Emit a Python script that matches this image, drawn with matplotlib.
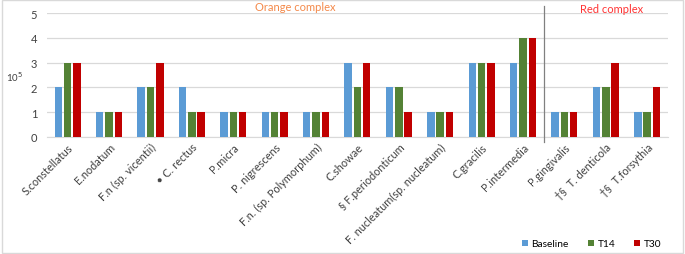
import numpy as np
import matplotlib.pyplot as plt
from matplotlib.patches import Rectangle

plt.rcParams['font.family'] = ['Lato', 'DejaVu Sans']

species = ["S.constellatus", "E.nodatum", "F.n (sp. vicentii)", "\u2022 C. rectus", "P.micra",
           "P. nigrescens", "F.n. (sp. Polymorphum)", "C.showae", "\u00a7 F.periodonticum",
           "F. nucleatum(sp. nucleatum)", "C.gracilis", "P.intermedia", "P.gingivalis",
           "\u2020\u00a7  T. denticola", "\u2020\u00a7  T.forsythia"]
baseline = [2, 1, 2, 2, 1, 1, 1, 3, 2, 1, 3, 3, 1, 2, 1]
t14 = [3, 1, 2, 1, 1, 1, 1, 2, 2, 1, 3, 4, 1, 2, 1]
t30 = [3, 1, 3, 1, 1, 1, 1, 3, 1, 1, 3, 4, 1, 3, 2]

fig = plt.figure(figsize=(6.85, 2.55), dpi=100)
ax = fig.add_axes([0.0686, 0.459, 0.9064, 0.486])

x = np.arange(len(species))
w = 0.18
gap = 0.045
ax.bar(x - w - gap, baseline, w, color="#5B9BD5", label="Baseline", zorder=3)
ax.bar(x, t14, w, color="#548235", label="T14", zorder=3)
ax.bar(x + w + gap, t30, w, color="#C00000", label="T30", zorder=3)

ax.set_xlim(-0.5, len(species) - 0.5)
ax.set_ylim(0, 5)
ax.set_yticks(range(6))
ax.yaxis.grid(True, color="#D9D9D9", linewidth=0.9, zorder=0)
for s in ["top", "right", "left"]:
    ax.spines[s].set_visible(False)
ax.spines["bottom"].set_color("#D9D9D9")
ax.tick_params(axis="both", length=0, labelsize=8, colors="#404040")
ax.tick_params(axis="y", pad=7)
ax.tick_params(axis="x", pad=3)
ax.set_xticks(x)
ax.set_xticklabels(species, rotation=45, ha="right", rotation_mode="anchor", fontsize=7.9)
ax.set_ylabel("10$^5$", rotation=0, fontsize=7, color="#404040", va="center", ha="center")
ax.yaxis.set_label_coords(-0.053, 0.49)

# divider between orange and red complex
ax.plot([11.5, 11.5], [-0.04, 1.055], transform=ax.get_xaxis_transform(), color="#808080",
        linewidth=0.9, clip_on=False, zorder=4)
ax.text(5.5, 1.056, "Orange complex", transform=ax.get_xaxis_transform(), color="#F4894A",
        fontsize=8, ha="center", va="center")
ax.text(13.15, 1.04, "Red complex", transform=ax.get_xaxis_transform(), color="#FF3333",
        fontsize=8, ha="center", va="center")

fig.legend(loc="center right", bbox_to_anchor=(0.965, 0.04), ncol=3, frameon=False,
           fontsize=7.3, handlelength=0.55, handleheight=0.55, columnspacing=1.9,
           handletextpad=0.35, borderpad=0, borderaxespad=0)
fig.patches.append(Rectangle((0.003, 0.005), 0.994, 0.99, transform=fig.transFigure,
                             fill=False, edgecolor="#D9D9D9", linewidth=1))

fig.savefig("out.png", dpi=100)
